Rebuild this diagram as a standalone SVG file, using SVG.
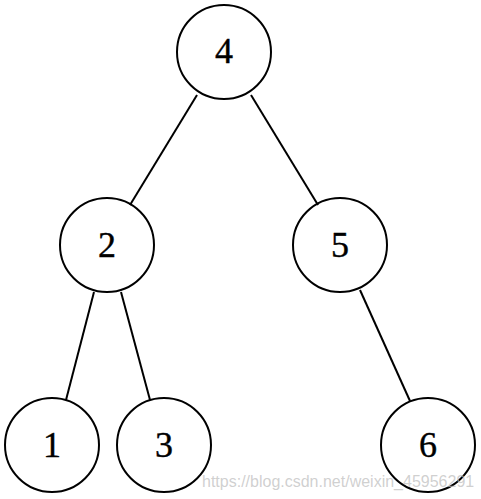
<svg xmlns="http://www.w3.org/2000/svg" width="481" height="499" viewBox="0 0 481 499">
<style>
.n circle{fill:none;stroke:#000;stroke-width:2}
.n text{font-family:"Liberation Serif","Times New Roman",serif;font-size:36px;text-anchor:middle;fill:#000;stroke:#000;stroke-width:0.4}
.e line{stroke:#000;stroke-width:2}
.wm{font-family:"Liberation Sans",Arial,sans-serif;font-size:16px;fill:#bbbbbb;fill-opacity:0.7}
</style>
<rect width="481" height="499" fill="#fff"/>
<g id="edges" class="e">
<line x1="197" y1="95" x2="130" y2="205"/>
<line x1="251" y1="95" x2="318" y2="205"/>
<line x1="94" y1="292" x2="66" y2="400"/>
<line x1="121" y1="292" x2="150" y2="400"/>
<line x1="360" y1="290" x2="410" y2="401"/>
</g>
<g id="n4" class="n"><circle cx="224" cy="52" r="47"/><text x="224" y="63">4</text></g>
<g id="n2" class="n"><circle cx="107" cy="245" r="47"/><text x="107" y="257">2</text></g>
<g id="n5" class="n"><circle cx="340" cy="245" r="47"/><text x="340" y="257">5</text></g>
<g id="n1" class="n"><circle cx="52" cy="445" r="47"/><text x="52" y="457">1</text></g>
<g id="n3" class="n"><circle cx="164" cy="445" r="47"/><text x="164" y="457">3</text></g>
<g id="n6" class="n"><circle cx="428" cy="445" r="47"/><text x="428" y="457">6</text></g>
<text class="wm" x="202" y="487">https://blog.csdn.net/weixin_45956291</text>
</svg>
